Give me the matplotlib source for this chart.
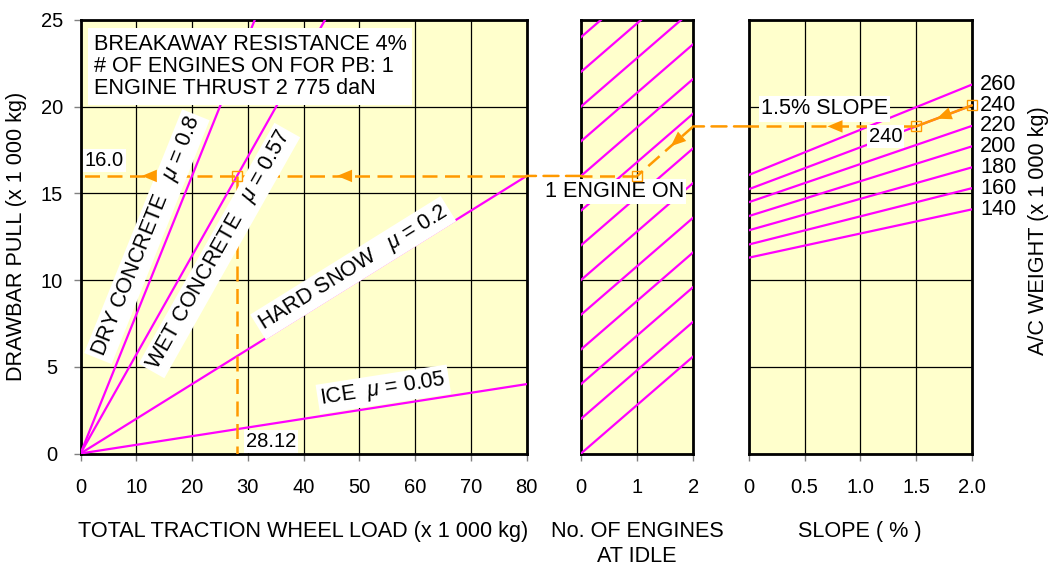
import numpy as np
import matplotlib
matplotlib.use("Agg")
import matplotlib.pyplot as plt
from matplotlib.patches import ConnectionPatch

plt.rcParams['font.family'] = ['Liberation Sans', 'DejaVu Sans']
plt.rcParams['mathtext.fontset'] = 'custom'
plt.rcParams['mathtext.it'] = 'Liberation Sans:italic'
plt.rcParams['mathtext.rm'] = 'Liberation Sans'

# ---- data ----
# runway surfaces (drawbar pull = mu * traction wheel load)
surface_names = ['DRY CONCRETE', 'WET CONCRETE', 'HARD SNOW', 'ICE']
surface_mu = [0.8, 0.57, 0.2, 0.05]
load_ticks = [0, 10, 20, 30, 40, 50, 60, 70, 80]
pull_ticks = [0, 5, 10, 15, 20, 25]

# engines at idle guide lines (start value at 0 engines, thrust per engine)
engine_ticks = [0, 1, 2]
engine_line_start = [0, 2, 4, 6, 8, 10, 12, 14, 16, 18, 20, 22, 24]
engine_thrust = 2.8

# A/C weight lines: pull at 0 % and at 2 % slope
slope_ticks = [0, 0.5, 1.0, 1.5, 2.0]
slope_labels = ['0', '0.5', '1.0', '1.5', '2.0']
weights = [140, 160, 180, 200, 220, 240, 260]
pull_slope0 = [11.29, 12.05, 12.87, 13.69, 14.49, 15.24, 16.06]
pull_slope2 = [14.07, 15.29, 16.49, 17.70, 18.88, 20.06, 21.26]

# worked example
ex_weight = 240
ex_slope = 1.5
ex_engines = 1
ex_pull = 16.0
ex_load = 28.12

MAG = '#FF00FF'
ORG = '#FF9900'
FACE = '#FFFFCC'
FS = 15.6

W, H = 1050, 566
fig = plt.figure(figsize=(W / 100, H / 100), dpi=100)
bot = 1 - 453.5 / H
hgt = 433.7 / H
ax1 = fig.add_axes([80.5 / W, bot, 446.2 / W, hgt])
ax2 = fig.add_axes([581 / W, bot, 112.3 / W, hgt])
ax3 = fig.add_axes([749 / W, bot, 222.7 / W, hgt])

for ax in (ax1, ax2, ax3):
    ax.set_facecolor(FACE)
    ax.set_ylim(0, 25)
    ax.set_yticks(pull_ticks)
    ax.set_axisbelow(True)
    ax.grid(color='black', lw=0.9)
    for s in ax.spines.values():
        s.set_linewidth(2)
    ax.tick_params(axis='x', length=5, width=1, color='gray', pad=12.5,
                   labelsize=14.5)
    ax.tick_params(axis='y', length=0, labelleft=False)

ax1.set_xlim(0, 80)
ax1.set_xticks(load_ticks)
ax1.tick_params(axis='y', length=5, width=1, color='gray', pad=15.5,
                labelsize=14.5, labelleft=True)
for lab in ax1.get_yticklabels():
    lab.set_horizontalalignment('center')

ax2.set_xlim(0, 2)
ax2.set_xticks(engine_ticks)
ax3.set_xlim(0, 2)
ax3.set_xticks(slope_ticks)
ax3.set_xticklabels(slope_labels)

# ---- panel 1: surfaces ----
xs = np.array([0, 80])
label_xy = [(11.9, 12.5), (24.9, 11.7), (48.9, 10.7), (54.3, 3.7)]
for name, mu, (lx, ly) in zip(surface_names, surface_mu, label_xy):
    ax1.plot(xs, mu * xs, color=MAG, lw=1.6, zorder=3)
    gap = '  ' if name == 'ICE' else '   '
    ax1.text(lx, ly, name + gap + r'$\mu$ = ' + f'{mu:g}', fontsize=15.5,
             rotation=np.degrees(np.arctan(mu)), transform_rotates_text=True,
             rotation_mode='anchor', ha='center', va='center', zorder=6,
             bbox=dict(facecolor='white', edgecolor='none', pad=2))

ax1.text(2.4, 24.2, 'BREAKAWAY RESISTANCE 4%\n# OF ENGINES ON FOR PB: 1\n'
         'ENGINE THRUST 2 775 daN', fontsize=FS, va='top', ha='left',
         linespacing=1.08, zorder=6,
         bbox=dict(facecolor='white', edgecolor='none', pad=4))

# ---- panel 2: engines ----
for b in engine_line_start:
    ax2.plot([0, 2], [b, b + 2 * engine_thrust], color=MAG, lw=1.6, zorder=3)

# ---- panel 3: weight / slope ----
for w, a, b in zip(weights, pull_slope0, pull_slope2):
    ax3.plot([0, 2], [a, b], color=MAG, lw=1.6, zorder=3)
    ax3.text(2.075, b, str(w), fontsize=FS, ha='left', va='center')

fig.text(0.989, 1 - 231 / H, 'A/C WEIGHT (x 1 000 kg)', rotation=90,
         ha='center', va='center', fontsize=FS)

# ---- worked example path ----
iw = weights.index(ex_weight)
y_start = pull_slope2[iw]
y_mid = np.interp(ex_slope, [0, 2], [pull_slope0[iw], pull_slope2[iw]])

dash = dict(color=ORG, lw=1.8, linestyle=(0, (6, 3)), zorder=4)
sq = dict(marker='s', ms=7, mfc='none', mec=ORG, mew=1, ls='none',
          zorder=7, clip_on=False)

ax3.plot([2.0, ex_slope], [y_start, y_mid], color=ORG, lw=1.8, zorder=4,
         clip_on=False)
ax3.plot([ex_slope, 0], [y_mid, y_mid], **dash)
ax3.plot([2.0, ex_slope], [y_start, y_mid], **sq)
fig.add_artist(ConnectionPatch((0, y_mid), (2, y_mid), 'data', 'data',
                               axesA=ax3, axesB=ax2, **dash))
ax2.plot([2, ex_engines], [y_mid, ex_pull], **dash)
ax2.plot([ex_engines, 0], [ex_pull, ex_pull], **dash)
ax2.plot([ex_engines], [ex_pull], **sq)
fig.add_artist(ConnectionPatch((0, ex_pull), (80, ex_pull), 'data', 'data',
                               axesA=ax2, axesB=ax1, **dash))
ax1.plot([80, 0], [ex_pull, ex_pull], **dash)
ax1.plot([ex_load, ex_load], [ex_pull, 0], **dash)
ax1.plot([ex_load], [ex_pull], **sq)


def arrow(ax, p0, p1, t):
    # arrowhead on segment p0->p1, tip at fraction t
    p0 = np.array(p0, float)
    p1 = np.array(p1, float)
    tip = p0 + t * (p1 - p0)
    tail = p0 + (t - 0.02) * (p1 - p0)
    ax.annotate('', xy=tip, xytext=tail, zorder=8,
                arrowprops=dict(arrowstyle='-|>,head_length=0.6,head_width=0.25',
                                color=ORG, lw=0, mutation_scale=18,
                                shrinkA=0, shrinkB=0))


arrow(ax3, (2.0, y_start), (ex_slope, y_mid), 0.63)
arrow(ax3, (ex_slope, y_mid), (0, y_mid), 0.53)
arrow(ax2, (2, y_mid), (ex_engines, ex_pull), 0.4)
arrow(ax1, (80, ex_pull), (0, ex_pull), 0.425)
arrow(ax1, (80, ex_pull), (0, ex_pull), 0.8625)

box = dict(facecolor='white', edgecolor='none', pad=1.5)
ax1.text(0.8, 16.9, f'{ex_pull:.1f}', fontsize=14.5, ha='left', va='center', bbox=box)
ax1.text(29.6, 0.7, f'{ex_load:.2f}', fontsize=14.5, ha='left', va='center', bbox=box)
ax2.text(0.59, 15.1, f'{ex_engines} ENGINE ON', fontsize=FS, ha='center',
         va='center', bbox=box, clip_on=False, zorder=6)
ax3.text(0.68, 19.86, f'{ex_slope:g}% SLOPE', fontsize=FS, ha='center',
         va='center', bbox=box, zorder=6)
ax3.text(1.226, 18.25, str(ex_weight), fontsize=14.5, ha='center', va='center',
         bbox=box, zorder=6)

# ---- axis titles ----
fig.text(17 / W, 1 - 236 / H, 'DRAWBAR PULL (x 1 000 kg)', rotation=90,
         ha='center', va='center', fontsize=FS)
fig.text(303.5 / W, 1 - 532 / H, 'TOTAL TRACTION WHEEL LOAD (x 1 000 kg)',
         ha='center', va='center', fontsize=FS)
fig.text(637 / W, 1 - 544 / H, 'No. OF ENGINES\nAT IDLE', ha='center',
         va='center', fontsize=FS, linespacing=1.25)
fig.text(860 / W, 1 - 532 / H, 'SLOPE ( % )', ha='center', va='center',
         fontsize=FS)

fig.savefig('out.png', dpi=100)
